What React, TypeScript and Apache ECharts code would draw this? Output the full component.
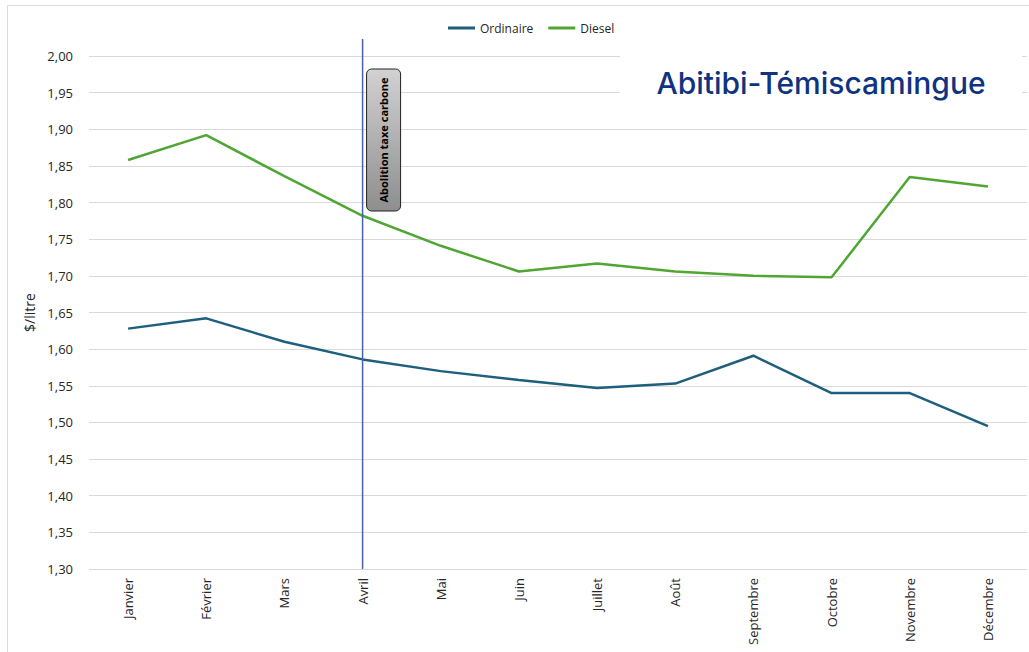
import React, { useEffect, useRef } from "react";
import * as echarts from "echarts";

const months = ["Janvier", "Février", "Mars", "Avril", "Mai", "Juin", "Juillet", "Août", "Septembre", "Octobre", "Novembre", "Décembre"];
const ordinaire = [1.628, 1.642, 1.610, 1.586, 1.570, 1.558, 1.547, 1.553, 1.591, 1.540, 1.540, 1.495];
const diesel = [1.858, 1.892, 1.836, 1.782, 1.741, 1.706, 1.717, 1.706, 1.700, 1.698, 1.835, 1.822];
const eventMonth = "Avril";
const eventLabel = "Abolition taxe carbone";
const regionTitle = "Abitibi-Témiscamingue";
const yMin = 1.3;
const yMax = 2.0;
const yStep = 0.05;

export default function App() {
  const ref = useRef<HTMLDivElement>(null);
  useEffect(() => {
    if (!ref.current) return;
    const chart = echarts.init(ref.current, null, { renderer: "svg" });
    const font = "'Open Sans', 'Noto Sans', sans-serif";
    chart.setOption({
      animation: false,
      textStyle: { fontFamily: font },
      grid: { left: 89, right: 2, top: 56, bottom: 83 },
      legend: {
        top: 17,
        left: 443,
        itemWidth: 27,
        itemHeight: 3,
        itemGap: 15,
        icon: "rect",
        textStyle: { fontSize: 12, color: "#262626", fontFamily: font },
        data: ["Ordinaire", "Diesel"],
      },
      xAxis: {
        type: "category",
        data: months,
        boundaryGap: true,
        axisLine: { show: false },
        axisTick: { show: false },
        axisLabel: { rotate: 90, fontSize: 13, color: "#262626", margin: 9, interval: 0 },
      },
      yAxis: {
        type: "value",
        min: yMin,
        max: yMax,
        interval: yStep,
        name: "$/litre",
        nameLocation: "middle",
        nameGap: 46,
        nameRotate: 90,
        nameTextStyle: { fontSize: 14, color: "#262626" },
        axisLine: { show: false },
        axisTick: { show: false },
        splitLine: { lineStyle: { color: "#d9d9d9", width: 1 } },
        axisLabel: {
          fontSize: 13,
          color: "#262626",
          margin: 16,
          formatter: (v: number) => v.toFixed(2).replace(".", ","),
        },
      },
      series: [
        {
          name: "Ordinaire",
          type: "line",
          data: ordinaire,
          showSymbol: false,
          symbol: "none",
          itemStyle: { color: "#1d5f7d" },
          lineStyle: { color: "#1d5f7d", width: 2.5 },
          z: 3,
        },
        {
          name: "Diesel",
          type: "line",
          data: diesel,
          showSymbol: false,
          symbol: "none",
          itemStyle: { color: "#4fa633" },
          lineStyle: { color: "#4fa633", width: 2.5 },
          z: 3,
        },
      ],
    });
    const px = chart.convertToPixel({ xAxisIndex: 0 }, eventMonth) as number;
    const yBottom = chart.convertToPixel({ yAxisIndex: 0 }, yMin) as number;
    chart.setOption({
      graphic: [
        {
          type: "rect",
          shape: { x: 7.5, y: 5.5, width: 1040, height: 700 },
          style: { fill: "none", stroke: "#d9d9d9", lineWidth: 1 },
          silent: true,
          z: 0,
        },
        {
          type: "rect",
          shape: { x: 620, y: 48, width: 402, height: 70 },
          style: { fill: "#ffffff" },
          z: 10,
        },
        {
          type: "text",
          x: 821,
          y: 83,
          style: {
            text: regionTitle,
            fill: "#0f3380",
            font: "500 30px Inter, sans-serif",
            align: "center",
            verticalAlign: "middle",
          },
          z: 11,
        },
        {
          type: "line",
          shape: { x1: px, y1: 39, x2: px, y2: yBottom },
          style: { stroke: "#4762a6", lineWidth: 1.5 },
          z: 20,
        },
        {
          type: "rect",
          shape: { x: px + 4, y: 69, width: 34, height: 142, r: 5 },
          style: {
            fill: new echarts.graphic.LinearGradient(0, 0, 0, 1, [
              { offset: 0, color: "#d2d2d2" },
              { offset: 1, color: "#8e8e8e" },
            ]),
            stroke: "#222",
            lineWidth: 1,
          },
          z: 21,
        },
        {
          type: "text",
          x: px + 21,
          y: 140,
          rotation: Math.PI / 2,
          style: {
            text: eventLabel,
            fill: "#000",
            font: "bold 11px 'Open Sans', sans-serif",
            align: "center",
            verticalAlign: "middle",
          },
          z: 22,
        },
      ],
    });
    return () => chart.dispose();
  }, []);
  return <div ref={ref} style={{ position: "absolute", left: 0, top: 0, width: 1029, height: 652, background: "#fff" }} />;
}
